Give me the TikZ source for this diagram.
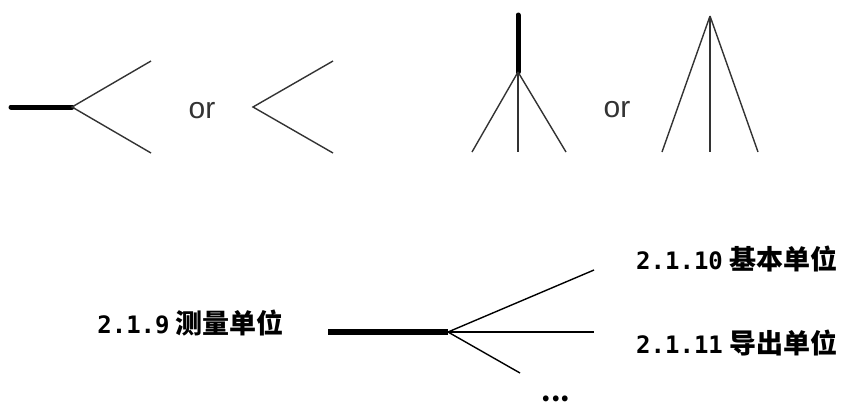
\documentclass[tikz,border=0pt]{standalone}
\usepackage{fontspec}
\setmainfont{Liberation Sans}
\newfontfamily\cjkfont{Noto Sans CJK SC}
\newfontfamily\numfont{DejaVu Sans Mono}
\usetikzlibrary{positioning}
\definecolor{linegray}{HTML}{333333}

\begin{document}
\begin{tikzpicture}[
    x=1pt, y=-1pt,
    branch/.style={draw=linegray, line width=1.4pt},
    stem/.style={draw=black, line width=5pt, line cap=round},
    bigstem/.style={draw=black, line width=6pt},
    orlabel/.style={font=\fontsize{30}{30}\selectfont, text=linegray, inner sep=0pt},
    unitlabel/.style={font=\cjkfont\bfseries\fontsize{27}{27}\selectfont, text=black, inner sep=0pt}
]%
\newcommand\secnum[1]{{\numfont\bfseries\fontsize{24}{24}\selectfont #1}}
\useasboundingbox (0,0) rectangle (843,408);
%
% Gabel links: Stiel mit zwei Zweigen, oder nur Zweige
\coordinate (forkA) at (72,107);
\coordinate (stemA) at (11,107);
\coordinate (forkA up) at (151,61);
\coordinate (forkA down) at (151,153);
\draw[stem] (stemA) -- (forkA);
\draw[branch] (forkA up) -- (forkA) -- (forkA down);
\node[orlabel] (orA) at (202,111) {or};
\coordinate (forkB) at (253,107);
\coordinate (forkB up) at (333,61);
\coordinate (forkB down) at (333,153);
\draw[branch] (forkB up) -- (forkB) -- (forkB down);
%
% Gabel rechts: senkrechter Stiel mit drei Zweigen
\coordinate (forkC) at (518,72);
\coordinate (stemC) at (518,15);
\draw[stem] (stemC) -- (forkC);
\foreach \x/\name in {472/left, 518/mid, 566/right}
    \coordinate (forkC \name) at (\x,152);
\draw[branch] (forkC) -- (forkC left);
\draw[branch] (forkC) -- (forkC mid);
\draw[branch] (forkC) -- (forkC right);
\node[orlabel] (orB) at (617,110) {or};
\coordinate (forkD) at (710,16);
\foreach \x/\name in {662/left, 710/mid, 758/right}
    \coordinate (forkD \name) at (\x,152);
\draw[branch] (forkD) -- (forkD left);
\draw[branch] (forkD) -- (forkD mid);
\draw[branch] (forkD) -- (forkD right);
%
% Begriffsbaum unten
\node[unitlabel, anchor=east] (measure) at (284,323) {\secnum{2.1.9} 测量单位};
\coordinate (treeroot) at (328,332);
\coordinate (treefork) at (448,332);
\draw[bigstem] (treeroot) -- (treefork);
\node[unitlabel, anchor=west] (baseunit) at (636,259) {\secnum{2.1.10} 基本单位};
\node[unitlabel, anchor=west] (derivedunit) at (636,343) {\secnum{2.1.11} 导出单位};
\node[unitlabel, anchor=base] (more) at (556,401) {...};
\coordinate (tree up) at (594,270);
\coordinate (tree mid) at (594,332);
\coordinate (tree down) at (520,373);
\draw[branch, draw=black] (treefork) -- (tree up);
\draw[branch, draw=black] (treefork) -- (tree mid);
\draw[branch, draw=black] (treefork) -- (tree down);
\end{tikzpicture}
\end{document}
